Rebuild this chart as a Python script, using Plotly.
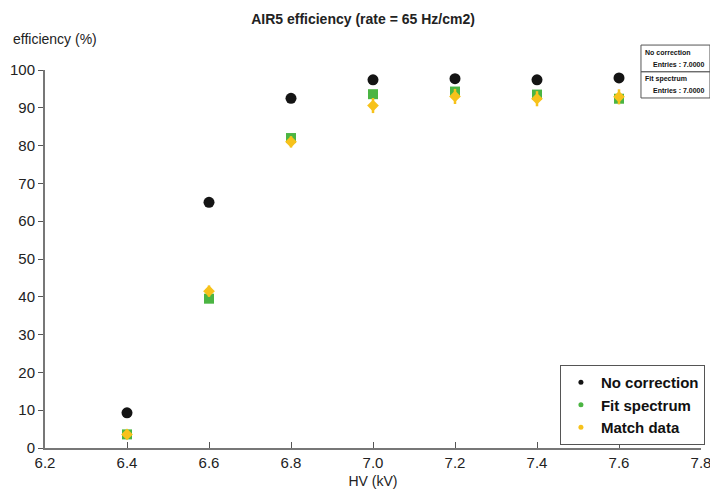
import plotly.graph_objects as go

hv = [6.4, 6.6, 6.8, 7.0, 7.2, 7.4, 7.6]
no_correction = [9.3, 65.0, 92.5, 97.4, 97.7, 97.4, 97.9]
fit_spectrum = [3.6, 39.5, 82.0, 93.6, 94.3, 93.5, 92.4]
match_data = [3.6, 41.5, 81.0, 90.6, 93.0, 92.4, 92.9]
match_err = [1.0, 1.5, 1.5, 2.0, 2.0, 2.0, 2.0]

series_names = ["No correction", "Fit spectrum", "Match data"]
colors = ["#141414", "#4bb543", "#f7c21b"]
symbols = ["circle", "square", "diamond"]

font = "Liberation Sans, Arial, sans-serif"
fig = go.Figure()
fig.add_trace(go.Scatter(x=hv, y=no_correction, mode="markers", name=series_names[0], showlegend=False,
                         marker=dict(symbol=symbols[0], size=11, color=colors[0])))
fig.add_trace(go.Scatter(x=hv, y=fit_spectrum, mode="markers", name=series_names[1], showlegend=False,
                         marker=dict(symbol=symbols[1], size=10, color=colors[1])))
fig.add_trace(go.Scatter(x=hv, y=match_data, mode="markers", name=series_names[2], showlegend=False,
                         marker=dict(symbol=symbols[2], size=9, color=colors[2]),
                         error_y=dict(type="data", array=match_err, color=colors[2], thickness=2.5, width=0)))
# legend entries (small dots as in the reference)
for n, c in zip(series_names, colors):
    fig.add_trace(go.Scatter(x=[None], y=[None], mode="markers", name=n,
                             marker=dict(symbol="circle", size=5, color=c)))

# the page body has an 8px margin, so the figure is sized/offset to compensate
fig.update_layout(
    width=710, height=486,
    margin=dict(l=37, r=17, t=62, b=46),
    plot_bgcolor="white", paper_bgcolor="white",
    font=dict(family=font, size=15, color="#222"),
    title=dict(text="<b>AIR5 efficiency (rate = 65 Hz/cm2)</b>", x=0.5, xanchor="center",
               yref="container", y=0.978, yanchor="middle", font=dict(size=14, family=font, color="#222")),
    showlegend=True,
    legend=dict(x=1.006, xanchor="right", y=0.008, yanchor="bottom",
                bordercolor="#555", borderwidth=1, bgcolor="white",
                font=dict(size=15, family=font, color="#111", weight="bold"),
                itemsizing="trace", itemwidth=30, tracegroupgap=0),
    xaxis=dict(range=[6.2, 7.8], dtick=0.2, tickformat=".1f", showgrid=False, zeroline=False,
               automargin=False,
               showline=True, linecolor="#777", linewidth=2, ticks="inside", ticklen=6,
               tickcolor="#555", tickfont=dict(size=15),
               title=dict(text="HV (kV)", font=dict(size=14), standoff=6)),
    yaxis=dict(range=[0, 100], dtick=10, showgrid=False, zeroline=False, automargin=False,
               showline=True, linecolor="#777", linewidth=2, ticks="outside", ticklen=5,
               tickcolor="#555", tickfont=dict(size=15)),
)

fig.add_annotation(text="efficiency (%)", xref="paper", yref="paper", x=-0.052, y=1.055,
                   xanchor="left", yanchor="bottom", showarrow=False, font=dict(size=14))

# stats boxes
boxes = [("No correction", 1.066, 0.995), ("Fit spectrum", 0.995, 0.926)]
for name, y0, y1 in boxes:
    fig.add_shape(type="rect", xref="paper", yref="paper", x0=0.9085, x1=1.0137, y0=y1, y1=y0,
                  line=dict(color="#555", width=1), fillcolor="white")
    fig.add_annotation(text="<b>" + name + "</b>", xref="paper", yref="paper", x=0.911, y=y0 - 0.004,
                       xanchor="left", yanchor="top", showarrow=False, font=dict(size=7, color="#111"))
    fig.add_annotation(text="<b>Entries : 7.0000</b>", xref="paper", yref="paper", x=1.008, y=y1 + 0.006,
                       xanchor="right", yanchor="bottom", showarrow=False, font=dict(size=7, color="#111"))

fig.write_html("out.html")
